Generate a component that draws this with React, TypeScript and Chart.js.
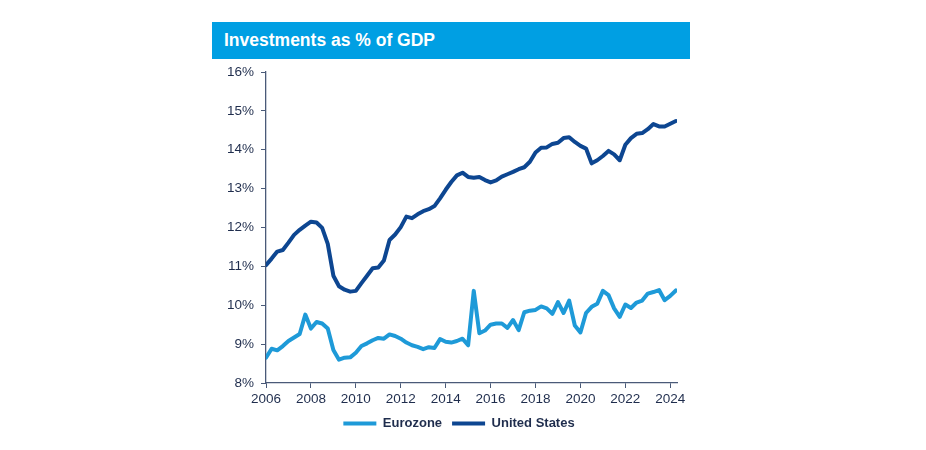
import React, { useEffect, useRef } from "react";
import { Chart, registerables } from "chart.js";

Chart.register(...registerables);

// Quarterly categories, 2006 Q1 .. 2024 Q2
const years: number[] = [2006, 2007, 2008, 2009, 2010, 2011, 2012, 2013, 2014, 2015, 2016, 2017, 2018, 2019, 2020, 2021, 2022, 2023, 2024];
const quarterNames: string[] = ["Q1", "Q2", "Q3", "Q4"];
const quarterLabels: string[] = years
  .flatMap((y) => quarterNames.map((q) => `${y} ${q}`))
  .slice(0, 74);

const xTickYears: number[] = [2006, 2008, 2010, 2012, 2014, 2016, 2018, 2020, 2022, 2024];
const xTickLabels: string[] = ["2006", "2008", "2010", "2012", "2014", "2016", "2018", "2020", "2022", "2024"];
const yTickValues: number[] = [8, 9, 10, 11, 12, 13, 14, 15, 16];
const yTickLabels: string[] = ["8%", "9%", "10%", "11%", "12%", "13%", "14%", "15%", "16%"];

const eurozone: number[] = [
  8.65, 8.88, 8.84, 8.95,
  9.08, 9.17, 9.26, 9.76,
  9.4, 9.57, 9.53, 9.4,
  8.85, 8.6, 8.65, 8.66,
  8.78, 8.95, 9.02, 9.1,
  9.16, 9.14, 9.25, 9.21,
  9.14, 9.04, 8.97, 8.93,
  8.87, 8.92, 8.9, 9.13,
  9.06, 9.04, 9.08, 9.14,
  8.97, 10.37, 9.28, 9.35,
  9.5, 9.53, 9.53, 9.42,
  9.62, 9.36, 9.82, 9.86,
  9.88, 9.97, 9.92, 9.78,
  10.08, 9.8, 10.12, 9.48,
  9.3, 9.8, 9.96, 10.04,
  10.37, 10.26, 9.92, 9.7,
  10.02, 9.93, 10.07, 10.12,
  10.3, 10.34, 10.39, 10.13,
  10.24, 10.38,
];

const unitedStates: number[] = [
  11.03, 11.2, 11.38, 11.42,
  11.61, 11.81, 11.94, 12.05,
  12.15, 12.13, 11.99, 11.58,
  10.76, 10.49, 10.4, 10.35,
  10.37, 10.57, 10.76, 10.95,
  10.97, 11.15, 11.68, 11.82,
  12.01, 12.28, 12.24, 12.34,
  12.42, 12.47, 12.55, 12.75,
  12.97, 13.17, 13.34, 13.41,
  13.3, 13.28, 13.3, 13.22,
  13.16, 13.21, 13.31, 13.37,
  13.43, 13.5, 13.55, 13.69,
  13.93, 14.05, 14.06, 14.15,
  14.18, 14.3, 14.32, 14.2,
  14.1, 14.03, 13.65, 13.73,
  13.84, 13.97, 13.88, 13.73,
  14.13, 14.3, 14.41, 14.43,
  14.53, 14.66, 14.6, 14.6,
  14.67, 14.74,
];

const EZ_COLOR = "#1E9AD8";
const US_COLOR = "#0D4691";
const TEXT_COLOR = "#1F2D4D";
const AXIS_COLOR = "#4A5A78";
const FONT = "'Liberation Sans', Arial, sans-serif";

function quarterToX(label: string): number {
  const [y, q] = label.split(" ");
  return Number(y) + (Number(q.slice(1)) - 1) / 4;
}

export default function App() {
  const canvasRef = useRef<HTMLCanvasElement | null>(null);

  useEffect(() => {
    if (!canvasRef.current) return;
    const toPoints = (vals: number[]) =>
      vals.map((v, i) => ({ x: quarterToX(quarterLabels[i]), y: v }));

    const chart = new Chart(canvasRef.current, {
      type: "line",
      data: {
        datasets: [
          {
            label: "Eurozone",
            data: toPoints(eurozone),
            borderColor: EZ_COLOR,
            backgroundColor: EZ_COLOR,
            borderWidth: 4,
            pointRadius: 0,
            tension: 0,
            borderJoinStyle: "round",
            borderCapStyle: "round",
          },
          {
            label: "United States",
            data: toPoints(unitedStates),
            borderColor: US_COLOR,
            backgroundColor: US_COLOR,
            borderWidth: 4,
            pointRadius: 0,
            tension: 0,
            borderJoinStyle: "round",
            borderCapStyle: "round",
          },
        ],
      },
      options: {
        animation: false,
        responsive: false,
        maintainAspectRatio: false,
        layout: { padding: { left: 206, right: 214, top: 72, bottom: 10 } },
        plugins: {
          title: { display: false },
          tooltip: { enabled: false },
          legend: {
            display: true,
            position: "bottom",
            labels: {
              color: TEXT_COLOR,
              font: { family: FONT, size: 13, weight: "bold" },
              boxWidth: 33,
              boxHeight: 4,
              padding: 10,
              generateLabels: (c: any) =>
                (Chart.defaults.plugins.legend.labels as any)
                  .generateLabels(c)
                  .map((l: any) => ({ ...l, lineWidth: 0, fillStyle: l.strokeStyle })),
            },
          },
        },
        scales: {
          x: {
            type: "linear",
            min: 2006,
            max: 2024.3,
            afterFit: (s: any) => {
              s.height = 24;
            },
            afterBuildTicks: (s: any) => {
              s.ticks = xTickYears.map((v) => ({ value: v }));
            },
            grid: {
              drawOnChartArea: false,
              drawTicks: true,
              tickLength: 5,
              color: AXIS_COLOR,
            },
            border: { display: true, color: AXIS_COLOR, width: 1.3 },
            ticks: {
              color: TEXT_COLOR,
              font: { family: FONT, size: 13.5 },
              padding: 3.5,
              maxRotation: 0,
              autoSkip: false,
              callback: (_v: any, i: number) => xTickLabels[i],
            },
          },
          y: {
            type: "linear",
            min: 8,
            max: 16,
            afterFit: (s: any) => {
              s.width = 60;
            },
            afterBuildTicks: (s: any) => {
              s.ticks = yTickValues.map((v) => ({ value: v }));
            },
            grid: {
              drawOnChartArea: false,
              drawTicks: true,
              tickLength: 5,
              color: AXIS_COLOR,
            },
            border: { display: true, color: AXIS_COLOR, width: 1.3 },
            ticks: {
              color: TEXT_COLOR,
              font: { family: FONT, size: 13.5 },
              padding: 7,
              autoSkip: false,
              callback: (_v: any, i: number) => yTickLabels[i],
            },
          },
          spacer: {
            type: "linear",
            position: "right",
            display: true,
            min: 8,
            max: 16,
            afterFit: (s: any) => {
              s.width = 35;
            },
            grid: { display: false, drawTicks: false },
            border: { display: false },
            ticks: { display: false },
          },
        },
      },
    } as any);

    return () => chart.destroy();
  }, []);

  return (
    <div style={{ position: "absolute", left: 0, top: 0, width: 926, height: 450, background: "#fff" }}>
      <canvas ref={canvasRef} width={926} height={450} style={{ position: "absolute", left: 0, top: 0, width: 926, height: 450 }} />
      <div
        style={{
          position: "absolute",
          left: 212,
          top: 22,
          width: 478,
          height: 37,
          background: "#009FE3",
          color: "#fff",
          fontFamily: FONT,
          fontWeight: "bold",
          fontSize: 17.5,
          lineHeight: "37px",
          paddingLeft: 12,
          boxSizing: "border-box",
          whiteSpace: "nowrap",
        }}
      >
        Investments as % of GDP
      </div>
    </div>
  );
}
